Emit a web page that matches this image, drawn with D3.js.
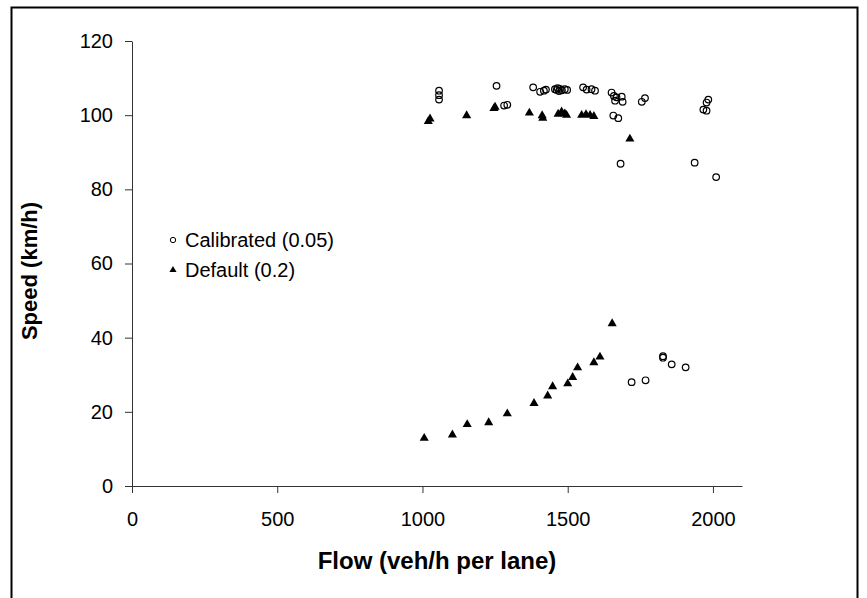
<!DOCTYPE html>
<html>
<head>
<meta charset="utf-8">
<script src="https://cdn.jsdelivr.net/npm/d3@7"></script>
<style>
  html, body { margin: 0; padding: 0; background: #fff; }
  svg { display: block; font-family: "Liberation Sans", Arial, sans-serif; }
</style>
</head>
<body>
<svg id="chart" width="867" height="598"></svg>
<script>
// Calibrated model (0.05): flow (veh/h per lane) and speed (km/h)
const calibratedFlow = [
  1057, 1057, 1057, 1255, 1281, 1292, 1381, 1405, 1418, 1425,
  1456, 1462, 1465, 1470, 1473, 1480, 1490, 1498, 1553, 1565,
  1582, 1594, 1651, 1659, 1668, 1686, 1689, 1663, 1657, 1674,
  1682, 1755, 1766, 1984, 1978, 1967, 1978, 1937, 2011,
  1720, 1768, 1828, 1828, 1858, 1906
];
const calibratedSpeed = [
  106.6, 105.4, 104.2, 107.9, 102.6, 102.8, 107.5, 106.3, 106.6, 106.9,
  107.0, 106.8, 107.3, 106.5, 107.1, 106.7, 107.0, 106.8, 107.5, 106.9,
  107.0, 106.6, 106.1, 105.2, 104.8, 105.0, 103.6, 103.9, 99.9, 99.2,
  86.9, 103.6, 104.6, 104.2, 103.4, 101.5, 101.2, 87.2, 83.3,
  28.0, 28.5, 35.0, 34.6, 32.8, 32.0
];

// Default model (0.2)
const defaultFlow = [
  1020, 1026, 1152, 1246, 1250, 1368, 1412, 1414, 1467, 1479,
  1490, 1496, 1548, 1563, 1577, 1590, 1714,
  1006, 1103, 1154, 1228, 1292, 1384, 1431, 1448, 1500, 1517,
  1534, 1590, 1611, 1653
];
const defaultSpeed = [
  98.3, 99.0, 99.9, 101.8, 102.2, 100.6, 99.9, 99.2, 100.3, 100.9,
  100.4, 100.0, 100.0, 100.2, 100.0, 99.7, 93.6,
  12.9, 13.8, 16.6, 17.1, 19.5, 22.3, 24.3, 26.8, 27.6, 29.3,
  31.9, 33.3, 34.8, 43.8
];

const xTicks = [0, 500, 1000, 1500, 2000];
const yTicks = [0, 20, 40, 60, 80, 100, 120];
const seriesNames = ["Calibrated (0.05)", "Default (0.2)"];
const xTitle = "Flow (veh/h per lane)";
const yTitle = "Speed (km/h)";

const svg = d3.select("#chart");

// outer chart frame
svg.append("rect")
  .attr("x", 11.5).attr("y", 7.5)
  .attr("width", 846).attr("height", 620)
  .attr("fill", "none").attr("stroke", "#000").attr("stroke-width", 2);

const x = d3.scaleLinear().domain([0, 2100]).range([132, 742]);
const y = d3.scaleLinear().domain([0, 120]).range([486, 41]);
const fmt = d3.format("d");

// x axis
const xAxis = svg.append("g")
  .attr("transform", `translate(0,${y(0)})`)
  .call(d3.axisBottom(x).tickValues(xTicks).tickFormat(fmt)
    .tickSize(7).tickSizeOuter(0).tickPadding(19));
xAxis.select(".domain").attr("stroke", "#333");
xAxis.selectAll(".tick line").attr("stroke", "#333");
xAxis.selectAll(".tick text").attr("font-size", 20).attr("fill", "#000")
  .attr("font-family", "Liberation Sans, Arial, sans-serif");

// y axis
const yAxis = svg.append("g")
  .attr("transform", `translate(${x(0)},0)`)
  .call(d3.axisLeft(y).tickValues(yTicks).tickFormat(fmt)
    .tickSize(7).tickSizeOuter(0).tickPadding(12));
yAxis.select(".domain").attr("stroke", "#333");
yAxis.selectAll(".tick line").attr("stroke", "#333");
yAxis.selectAll(".tick text").attr("font-size", 20).attr("fill", "#000")
  .attr("font-family", "Liberation Sans, Arial, sans-serif");

// axis titles
svg.append("text")
  .attr("x", 437).attr("y", 569)
  .attr("text-anchor", "middle")
  .attr("font-size", 24).attr("font-weight", "bold")
  .text(xTitle);

svg.append("text")
  .attr("transform", `translate(37,${271}) rotate(-90)`)
  .attr("text-anchor", "middle")
  .attr("font-size", 22).attr("font-weight", "bold")
  .text(yTitle);

const calibrated = calibratedFlow.map((f, i) => ({ f, s: calibratedSpeed[i] }));
const deflt = defaultFlow.map((f, i) => ({ f, s: defaultSpeed[i] }));

const tri = d3.symbol().type(d3.symbolTriangle).size(36);

// Default series: filled triangles
svg.append("g").selectAll("path")
  .data(deflt).join("path")
  .attr("d", tri)
  .attr("transform", d => `translate(${x(d.f)},${y(d.s)})`)
  .attr("fill", "#000");

// Calibrated series: open circles
svg.append("g").selectAll("circle")
  .data(calibrated).join("circle")
  .attr("cx", d => x(d.f)).attr("cy", d => y(d.s))
  .attr("r", 3.3)
  .attr("fill", "none").attr("stroke", "#000").attr("stroke-width", 1.2);

// legend
const legend = svg.append("g");
legend.append("circle")
  .attr("cx", 173).attr("cy", 240).attr("r", 2.7)
  .attr("fill", "none").attr("stroke", "#000").attr("stroke-width", 1);
legend.append("path")
  .attr("d", d3.symbol().type(d3.symbolTriangle).size(22))
  .attr("transform", "translate(173,270)")
  .attr("fill", "#000");
legend.selectAll("text")
  .data(seriesNames).join("text")
  .attr("x", 185).attr("y", (d, i) => 247 + i * 30)
  .attr("font-size", 20)
  .text(d => d);
</script>
</body>
</html>
